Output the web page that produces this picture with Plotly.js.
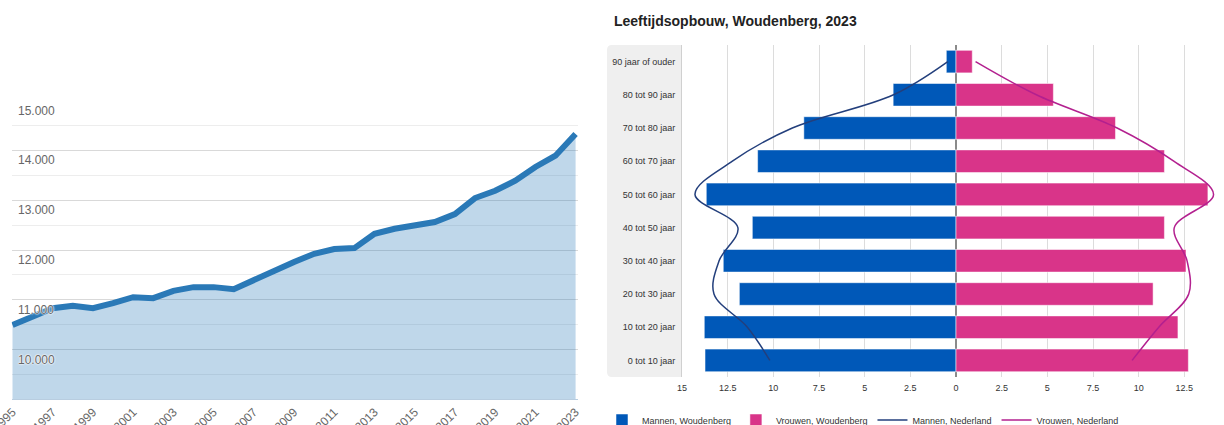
<!DOCTYPE html>
<html>
<head>
<meta charset="utf-8">
<script src="https://cdn.plot.ly/plotly-3.0.1.min.js"></script>
<style>
  html, body { margin: 0; padding: 0; background: #fff; overflow: hidden; }
  #chart { width: 1240px; height: 440px; }
</style>
</head>
<body>
<div id="chart"></div>
<script>
// ---- Left chart: inwoners Woudenberg ----
const years = [1995, 1996, 1997, 1998, 1999, 2000, 2001, 2002, 2003, 2004, 2005, 2006, 2007, 2008, 2009,
               2010, 2011, 2012, 2013, 2014, 2015, 2016, 2017, 2018, 2019, 2020, 2021, 2022, 2023];
const population = [10495, 10662, 10831, 10877, 10831, 10932, 11052, 11032, 11179, 11254, 11254, 11213, 11400, 11600, 11760,
                    11923, 12018, 12038, 12326, 12427, 12493, 12561, 12722, 13044, 13191, 13392, 13668, 13895, 14332];
const popTickVals = [10000, 11000, 12000, 13000, 14000, 15000];
const popTickText = ["10.000", "11.000", "12.000", "13.000", "14.000", "15.000"];
const popMinorVals = [9500, 10500, 11500, 12500, 13500, 14500];

// ---- Right chart: Leeftijdsopbouw ----
const ageGroups = ["0 tot 10 jaar", "10 tot 20 jaar", "20 tot 30 jaar", "30 tot 40 jaar", "40 tot 50 jaar",
                   "50 tot 60 jaar", "60 tot 70 jaar", "70 tot 80 jaar", "80 tot 90 jaar", "90 jaar of ouder"];
const menWoudenberg   = [13.74, 13.78, 11.86, 12.74, 11.15, 13.67, 10.86, 8.33, 3.44, 0.53];
const womenWoudenberg = [12.72, 12.15, 10.79, 12.59, 11.41, 13.79, 11.41, 8.73, 5.33, 0.89];
const menNederland    = [10.19, 11.42, 13.25, 12.97, 11.94, 14.29, 12.24, 8.96, 3.42, 0.45];
const womenNederland  = [9.64, 11.10, 12.74, 12.65, 11.95, 14.10, 11.92, 8.82, 4.40, 1.07];
const pctTickVals = [-15, -12.5, -10, -7.5, -5, -2.5, 0, 2.5, 5, 7.5, 10, 12.5, 15];
const pctTickText = ["15", "12.5", "10", "7.5", "5", "2.5", "0", "2.5", "5", "7.5", "10", "12.5", "15"];
const seriesNames = ["Mannen, Woudenberg", "Vrouwen, Woudenberg", "Mannen, Nederland", "Vrouwen, Nederland"];
const chartTitle = "Leeftijdsopbouw, Woudenberg, 2023";

// ---- geometry helpers (pixels -> paper); figure is a bit larger than the 1224x425 view ----
const W = 1240, H = 440;
const px = v => v / W;
const py = v => 1 - v / H;

const neg = arr => arr.map(v => -v);

const traces = [
  {
    x: years, y: population, type: 'scatter', mode: 'lines',
    fill: 'tozeroy', fillcolor: 'rgba(43,123,186,0.3)',
    line: { color: '#2a79b7', width: 6 },
    xaxis: 'x', yaxis: 'y', showlegend: false, hoverinfo: 'skip'
  },
  {
    x: neg(menWoudenberg), y: ageGroups, type: 'bar', orientation: 'h', name: seriesNames[0],
    marker: { color: '#0058b8', line: { color: 'rgba(255,255,255,0.5)', width: 1 } },
    xaxis: 'x2', yaxis: 'y2'
  },
  {
    x: womenWoudenberg, y: ageGroups, type: 'bar', orientation: 'h', name: seriesNames[1],
    marker: { color: '#d93489', line: { color: 'rgba(255,255,255,0.5)', width: 1 } },
    xaxis: 'x2', yaxis: 'y2'
  },
  {
    x: neg(menNederland), y: ageGroups, type: 'scatter', mode: 'lines', name: seriesNames[2],
    line: { color: '#233f7c', width: 1.5, shape: 'spline', smoothing: 1 },
    xaxis: 'x2', yaxis: 'y2'
  },
  {
    x: womenNederland, y: ageGroups, type: 'scatter', mode: 'lines', name: seriesNames[3],
    line: { color: '#b3208f', width: 1.5, shape: 'spline', smoothing: 1 },
    xaxis: 'x2', yaxis: 'y2'
  }
];

// rounded label panel of the pyramid
function panelPath(x0, y0, x1, y1, r) {
  return 'M' + px(x1) + ',' + py(y0) +
    ' L' + px(x0 + r) + ',' + py(y0) +
    ' Q' + px(x0) + ',' + py(y0) + ' ' + px(x0) + ',' + py(y0 + r) +
    ' L' + px(x0) + ',' + py(y1 - r) +
    ' Q' + px(x0) + ',' + py(y1) + ' ' + px(x0 + r) + ',' + py(y1) +
    ' L' + px(x1) + ',' + py(y1) + ' Z';
}

// y labels of the left chart: placed inside the plot, just below their gridline
const popLabels = popTickVals.map((v, i) => ({
  xref: 'x domain', x: 0, xanchor: 'left', xshift: 4,
  yref: 'y', y: v, yanchor: 'middle', yshift: -10,
  text: popTickText[i], showarrow: false,
  font: { size: 12, color: '#666', shadow: '0 0 2px #fff, 0 0 2px #fff, 0 0 1px #fff' }
}));

const layout = {
  width: W, height: H,
  margin: { l: 0, r: 0, t: 0, b: 0, pad: 0 },
  paper_bgcolor: '#fff', plot_bgcolor: 'rgba(0,0,0,0)',
  font: { family: 'Liberation Sans, Arial, sans-serif', color: '#333' },
  showlegend: true,
  barmode: 'overlay', bargap: 0.32,
  title: {
    text: chartTitle, xref: 'container', yref: 'container',
    x: px(614), xanchor: 'left', y: py(21), yanchor: 'middle',
    font: { family: 'Liberation Sans, Arial, sans-serif', size: 14, weight: 700, color: '#222' }
  },
  xaxis: {
    domain: [px(11.7), px(578)], range: [1994.96, 2023.12],
    tick0: 1995, dtick: 2, tickangle: -45, ticks: '',
    tickfont: { size: 12, color: '#666' }, ticklabeloverflow: 'allow',
    showgrid: false, zeroline: false,
    showline: true, linecolor: '#b8cde0', linewidth: 1,
    fixedrange: true
  },
  yaxis: {
    domain: [py(399.3), py(100.6)], range: [9000, 15002],
    tickvals: popTickVals, showticklabels: false,
    showgrid: true, gridcolor: '#d9d9d9', gridwidth: 1,
    minor: { tickvals: popMinorVals, showgrid: true, gridcolor: '#ededed', gridwidth: 1 },
    zeroline: false, showline: false, ticks: '',
    fixedrange: true
  },
  xaxis2: {
    domain: [px(682), px(1230)], range: [-15, 15], anchor: 'y2',
    tickvals: pctTickVals, ticktext: pctTickText, ticks: '',
    tickfont: { size: 9, color: '#333' }, ticklabelstandoff: 4, ticklabeloverflow: 'allow',
    showgrid: true, gridcolor: '#dcdcdc', gridwidth: 1,
    zeroline: true, zerolinecolor: '#8a8a8a', zerolinewidth: 2,
    showline: false, fixedrange: true
  },
  yaxis2: {
    domain: [py(377), py(45)], anchor: 'x2',
    type: 'category', categoryorder: 'array', categoryarray: ageGroups,
    ticks: '', tickfont: { size: 9, color: '#333' }, ticklabelstandoff: 4,
    showgrid: false, zeroline: false,
    showline: true, linecolor: '#d0d0d0', linewidth: 1,
    fixedrange: true
  },
  annotations: popLabels,
  shapes: [
    {
      type: 'path', xref: 'paper', yref: 'paper', layer: 'below',
      path: panelPath(607, 45, 682, 377, 5),
      fillcolor: '#efefef', line: { width: 0 }
    }
  ],
  legend: {
    orientation: 'h', x: px(602), xanchor: 'left', y: py(420), yanchor: 'middle',
    font: { size: 9, color: '#333' }, bgcolor: 'rgba(0,0,0,0)',
    traceorder: 'normal', itemclick: false, itemdoubleclick: false
  }
};

Plotly.newPlot('chart', traces, layout, { staticPlot: true, displayModeBar: false });
</script>
</body>
</html>
